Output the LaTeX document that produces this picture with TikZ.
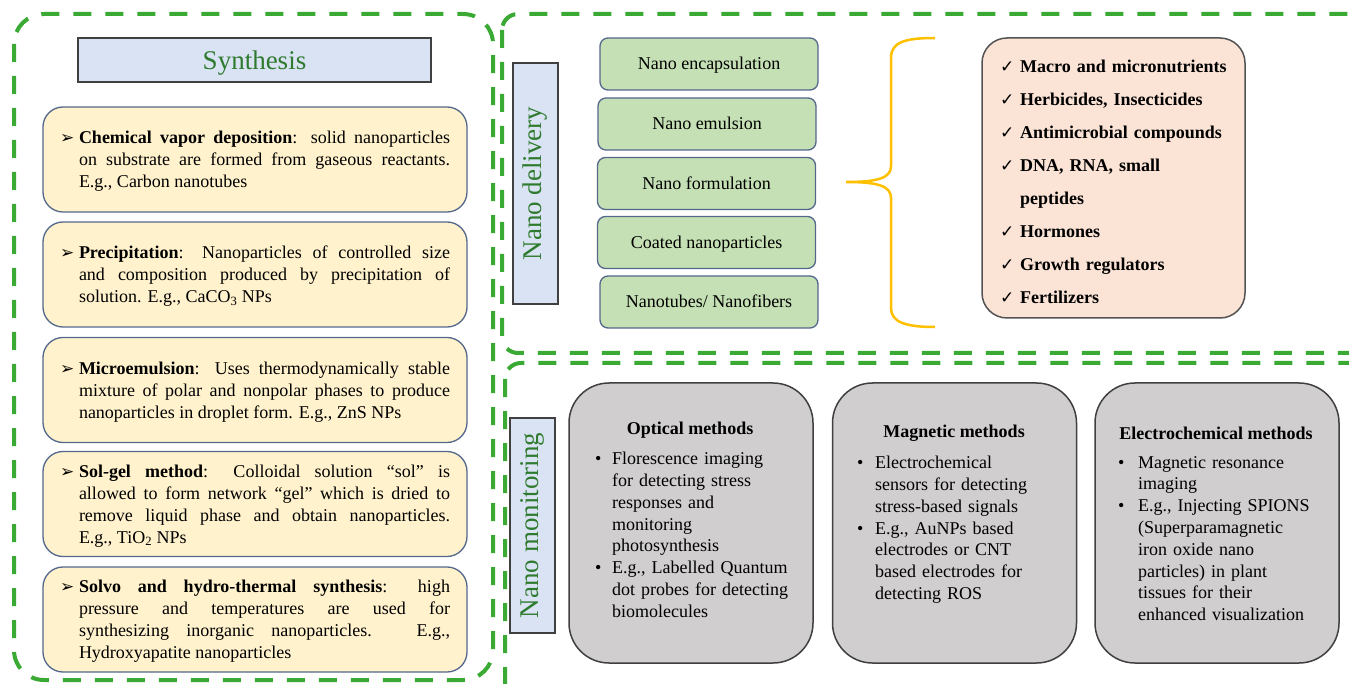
\documentclass[tikz,border=0pt]{standalone}
\usepackage{fontspec}
\setmainfont{LiberationSerif}[Extension=.ttf,UprightFont=*-Regular,BoldFont=*-Bold,ItalicFont=*-Italic,BoldItalicFont=*-BoldItalic]
\newfontfamily\dejavu{DejaVu Sans}
\hyphenpenalty=10000
\exhyphenpenalty=10000
\tolerance=10000
\hbadness=10000
\definecolor{dashgreen}{RGB}{58,170,53}
\definecolor{txtgreen}{RGB}{46,122,46}
\definecolor{yfill}{RGB}{255,242,204}
\definecolor{yborder}{RGB}{84,104,140}
\definecolor{gfill}{RGB}{197,224,180}
\definecolor{bluefill}{RGB}{218,227,243}
\definecolor{pinkfill}{RGB}{251,228,214}
\definecolor{grayfill}{RGB}{208,206,206}
\definecolor{grayborder}{RGB}{64,64,64}
\definecolor{bracecol}{RGB}{255,192,0}
\newcommand{\arrb}{\makebox[19pt][l]{\raisebox{0pt}{\dejavu\fontsize{17}{17}\selectfont ➢}}}
\newcommand{\chk}{\makebox[20pt][l]{\dejavu\fontsize{17}{17}\selectfont ✓}}
\newcommand{\bul}[1]{\makebox[#1][l]{•}}
\begin{document}
\begin{tikzpicture}[x=1pt,y=-1pt,
  frame/.style={draw=dashgreen,line width=4pt,dash pattern=on 18pt off 14pt},
  ybox/.style={draw=yborder,fill=yfill,line width=1.3pt,rounded corners=20pt,
    minimum width=424pt,minimum height=105pt},
  ytxt/.style={text width=390pt,inner sep=0pt,
    align=justify,font=\fontsize{18}{22}\selectfont},
  gbox/.style={draw=yborder,fill=gfill,line width=1.3pt,rounded corners=8pt,
    minimum width=218pt,minimum height=52pt,inner sep=0pt,text height=14pt,text depth=2pt,
    font=\fontsize{18}{22}\selectfont},
  lblbox/.style={draw=grayborder,fill=bluefill,line width=1.3pt,inner sep=0pt,
    text=txtgreen,font=\fontsize{27}{30}\selectfont},
  gybox/.style={draw=grayborder,fill=grayfill,line width=1.5pt,rounded corners=40pt,
    minimum width=244pt,minimum height=280pt},
  ttl/.style={inner sep=0pt,font=\bfseries\fontsize{18}{22}\selectfont},
  lst/.style={inner sep=0pt,anchor=north west,text width=215pt,align=left,
    font=\fontsize{18}{21.8}\selectfont},
  brace/.style={draw=bracecol,line width=2.5pt}
]
\useasboundingbox (0,0) rectangle (1349,684);
\fill[white] (0,0) rectangle (1349,684);

% dashed frames
\draw[frame,rounded corners=30pt] (14,14) rectangle (493,680);
\draw[frame,rounded corners=16pt] (502,14) rectangle (1420,353);
\draw[frame,rounded corners=16pt] (505,363) rectangle (1420,740);

% synthesis
\node[lblbox,minimum width=353pt,minimum height=44pt] (syn) at (254.5,60) {};
\node[inner sep=0pt,text=txtgreen,font=\fontsize{27}{30}\selectfont] (synt) at (254.5,63.5) {Synthesis};

\node[ybox] (cvd) at (255,159.5) {};
\node[ytxt] (cvdt) at (255,161.5) {\noindent\hangindent=19pt\hangafter=1\arrb\textbf{Chemical vapor deposition}: solid nanoparticles\linebreak on substrate are formed from gaseous reactants.\linebreak E.g., Carbon nanotubes\par};
\node[ybox] (prec) at (255,274.5) {};
\node[ytxt] (prect) at (255,276.5) {\noindent\hangindent=19pt\hangafter=1\arrb\textbf{Precipitation}: Nanoparticles of controlled size\linebreak and composition produced by precipitation of\linebreak solution. E.g., CaCO\textsubscript{3} NPs\par};
\node[ybox] (micro) at (255,390) {};
\node[ytxt] (microt) at (255,392) {\noindent\hangindent=19pt\hangafter=1\arrb\textbf{Microemulsion}: Uses thermodynamically stable\linebreak mixture of polar and nonpolar phases to produce\linebreak nanoparticles in droplet form. E.g., ZnS NPs\par};
\node[ybox] (solgel) at (255,504) {};
\node[ytxt] (solgelt) at (255,506) {\noindent\hangindent=19pt\hangafter=1\arrb\textbf{Sol-gel method}: Colloidal solution “sol” is\linebreak allowed to form network “gel” which is dried to\linebreak remove liquid phase and obtain nanoparticles.\linebreak E.g., TiO\textsubscript{2} NPs\par};
\node[ybox] (solvo) at (255,619.5) {};
\node[ytxt] (solvot) at (255,621.5) {\noindent\hangindent=19pt\hangafter=1\arrb\textbf{Solvo and hydro-thermal synthesis}: high\linebreak pressure and temperatures are used for\linebreak synthesizing inorganic nanoparticles. E.g.,\linebreak Hydroxyapatite nanoparticles\par};

% nano delivery
\node[lblbox,rotate=90,minimum width=241pt,minimum height=45pt] (deliv) at (535.5,183.5) {Nano delivery};
\node[gbox] (enc) at (709,64) {Nano encapsulation};
\node[gbox] (emu) at (707,124) {Nano emulsion};
\node[gbox] (form) at (706.5,183.5) {Nano formulation};
\node[gbox] (coat) at (706.5,242.5) {Coated nanoparticles};
\node[gbox] (tube) at (709,302) {Nanotubes/ Nanofibers};

% brace
\coordinate (bt) at (935,38);
\coordinate (btip) at (846,182);
\coordinate (bb) at (935,327);
\draw[brace] (bt) .. controls (905,38) and (891,42) .. (891,58) -- (891,166)
  .. controls (891,178) and (878,182) .. (btip)
  .. controls (878,182) and (891,186) .. (891,198) -- (891,308)
  .. controls (891,322) and (905,327) .. (bb);

% pink list
\node[draw=grayborder!90,fill=pinkfill,line width=1.5pt,rounded corners=25pt,
  minimum width=263pt,minimum height=280pt] (pink) at (1113.5,178) {};
\node[inner sep=0pt,anchor=north west,text width=235pt,align=left,
  font=\bfseries\fontsize{18}{33}\selectfont] (pinkl) at (1000,60) {%
\noindent\hangindent=20pt\hangafter=1\chk Macro and micronutrients\par
\noindent\hangindent=20pt\hangafter=1\chk Herbicides, Insecticides\par
\noindent\hangindent=20pt\hangafter=1\chk Antimicrobial compounds\par
\noindent\hangindent=20pt\hangafter=1\chk DNA, RNA, small\newline peptides\par
\noindent\hangindent=20pt\hangafter=1\chk Hormones\par
\noindent\hangindent=20pt\hangafter=1\chk Growth regulators\par
\noindent\hangindent=20pt\hangafter=1\chk Fertilizers\par};

% nano monitoring
\node[lblbox,rotate=90,minimum width=215pt,minimum height=45pt] (monit) at (532.5,525.5) {Nano monitoring};

\node[gybox] (opt) at (691,523) {};
\node[gybox] (mag) at (954.5,523) {};
\node[gybox] (ele) at (1217,523) {};

\node[ttl] (optt) at (690,430) {Optical methods};
\node[ttl] (magt) at (954,433) {Magnetic methods};
\node[ttl] (elet) at (1216,433) {Electrochemical methods};

\node[lst] (optl) at (595,452) {%
\noindent\hangindent=17pt\hangafter=1\bul{17pt}Florescence imaging\newline for detecting stress\newline responses and\newline monitoring\newline photosynthesis\par
\noindent\hangindent=17pt\hangafter=1\bul{17pt}E.g., Labelled Quantum\newline dot probes for detecting\newline biomolecules\par};

\node[lst] (magl) at (857,456) {%
\noindent\hangindent=18pt\hangafter=1\bul{18pt}Electrochemical\newline sensors for detecting\newline stress-based signals\par
\noindent\hangindent=18pt\hangafter=1\bul{18pt}E.g., AuNPs based\newline electrodes or CNT\newline based electrodes for\newline detecting ROS\par};

\node[lst] (elel) at (1118,456) {%
\noindent\hangindent=20pt\hangafter=1\bul{20pt}Magnetic resonance\newline imaging\par
\noindent\hangindent=20pt\hangafter=1\bul{20pt}E.g., Injecting SPIONS\newline (Superparamagnetic\newline iron oxide nano\newline particles) in plant\newline tissues for their\newline enhanced visualization\par};
\end{tikzpicture}
\end{document}
